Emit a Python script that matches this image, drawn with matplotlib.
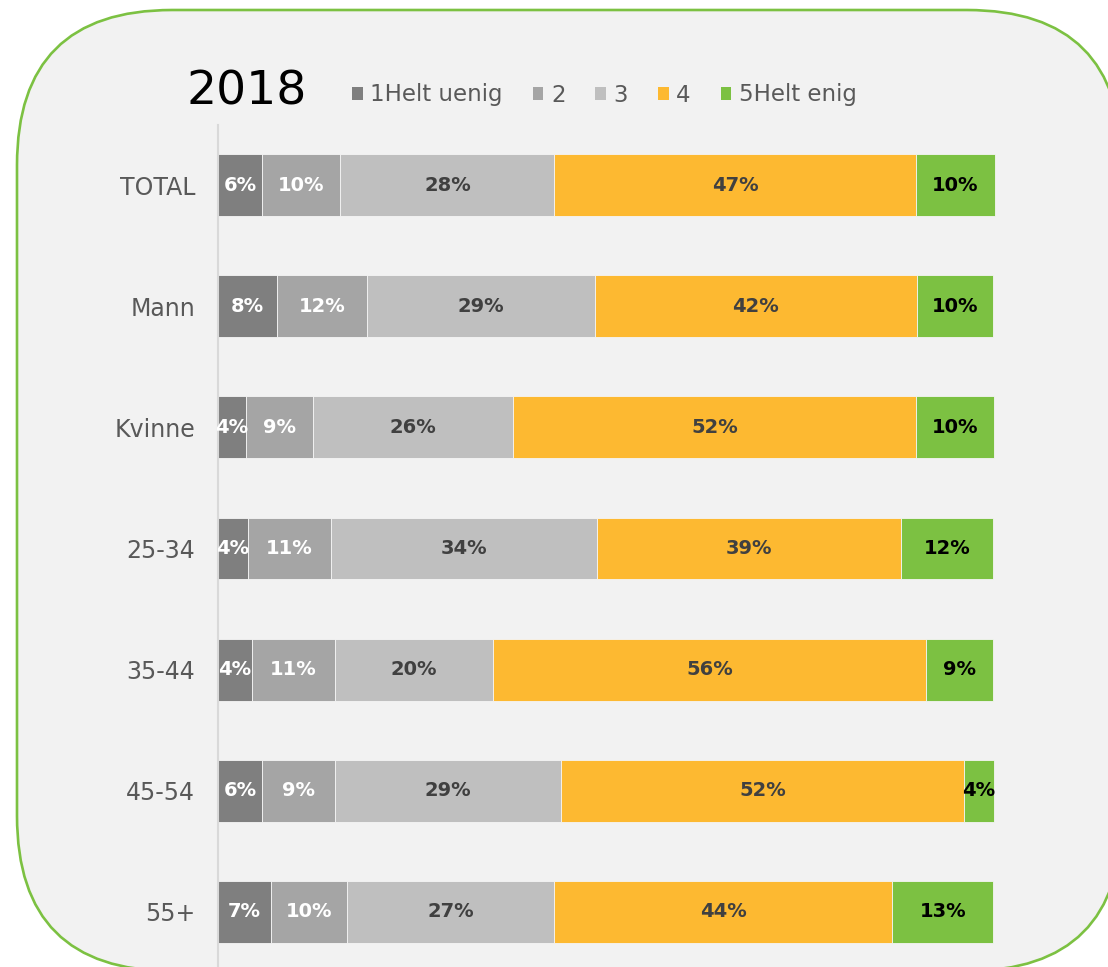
import matplotlib
matplotlib.use("Agg")
import matplotlib.pyplot as plt
from matplotlib.patches import FancyBboxPatch, Rectangle

categories = ["TOTAL", "Mann", "Kvinne", "25-34", "35-44", "45-54", "55+"]
series_names = ["1Helt uenig", "2", "3", "4", "5Helt enig"]
s1 = [5.7, 7.6, 3.6, 3.9, 4.4, 5.7, 6.8]
s2 = [10.1, 11.6, 8.6, 10.7, 10.7, 9.4, 9.9]
s3 = [27.6, 29.4, 25.8, 34.3, 20.4, 29.2, 26.7]
s4 = [46.7, 41.6, 52.1, 39.2, 55.9, 51.9, 43.6]
s5 = [10.1, 9.8, 10.0, 11.9, 8.6, 3.9, 13.0]
series = [s1, s2, s3, s4, s5]
title = "2018"

colors = ["#7f7f7f", "#a5a5a5", "#bfbfbf", "#fdb931", "#7cc142"]
label_colors = ["white", "white", "#404040", "#404040", "black"]

W, H = 1108, 967
fig = plt.figure(figsize=(W / 100, H / 100), dpi=100, facecolor="white")

# background rounded panel
bg = fig.add_axes([0, 0, 1, 1], zorder=0)
bg.set_xlim(0, W)
bg.set_ylim(H, 0)
bg.axis("off")
panel = FancyBboxPatch((17, 10), 1122 - 17, 971 - 10,
                       boxstyle="round,pad=0,rounding_size=155",
                       facecolor="#f2f2f2", edgecolor="#7cc142", linewidth=1.9,
                       clip_on=False)
bg.add_patch(panel)

# main axes
ax_left = 218 / W
ax_width = (993 - 218) / W
ax_top = 124.5 / H
ax_bottom = 972.5 / H
ax = fig.add_axes([ax_left, 1 - ax_bottom, ax_width, ax_bottom - ax_top], zorder=1)
ax.set_facecolor("none")

y = list(range(len(categories)))
left = [0.0] * len(categories)
for i, (vals, c, lc) in enumerate(zip(series, colors, label_colors)):
    bars = ax.barh(y, vals, left=left, height=0.51, color=c, edgecolor="#f5f5f5",
                   linewidth=0.6, label=series_names[i], clip_on=False)
    for b, v in zip(bars, vals):
        ax.text(b.get_x() + b.get_width() / 2, b.get_y() + b.get_height() / 2,
                f"{round(v):d}%", ha="center", va="center", color=lc,
                fontsize=14, fontweight="bold", family="DejaVu Sans")
    left = [l + v for l, v in zip(left, vals)]

ax.set_xlim(0, 100)
ax.set_ylim(len(categories) - 0.5, -0.5)
ax.set_yticks(y)
ax.set_yticklabels(categories, fontsize=17, color="#595959")
ax.tick_params(axis="y", length=0, pad=16.5)
ax.set_xticks([])
for s in ["top", "right", "bottom"]:
    ax.spines[s].set_visible(False)
ax.spines["left"].set_color("#d9d9d9")
ax.spines["left"].set_linewidth(1.5)

# title
fig.text(247 / W, 1 - 92 / H, title, fontsize=34, color="black", ha="center", va="center")

# legend
handles = [Rectangle((0, 0), 1, 1, facecolor=c, edgecolor="none") for c in colors]
leg = fig.legend(handles, series_names, loc="center left",
                 bbox_to_anchor=(352 / W, 1 - 95 / H), ncol=5, frameon=False,
                 fontsize=16.5, handlelength=0.47, handleheight=0.47,
                 handletextpad=0.33, columnspacing=1.3, borderaxespad=0, borderpad=0)
for t in leg.get_texts():
    t.set_color("#595959")

fig.savefig("out.png", dpi=100, facecolor="white")
